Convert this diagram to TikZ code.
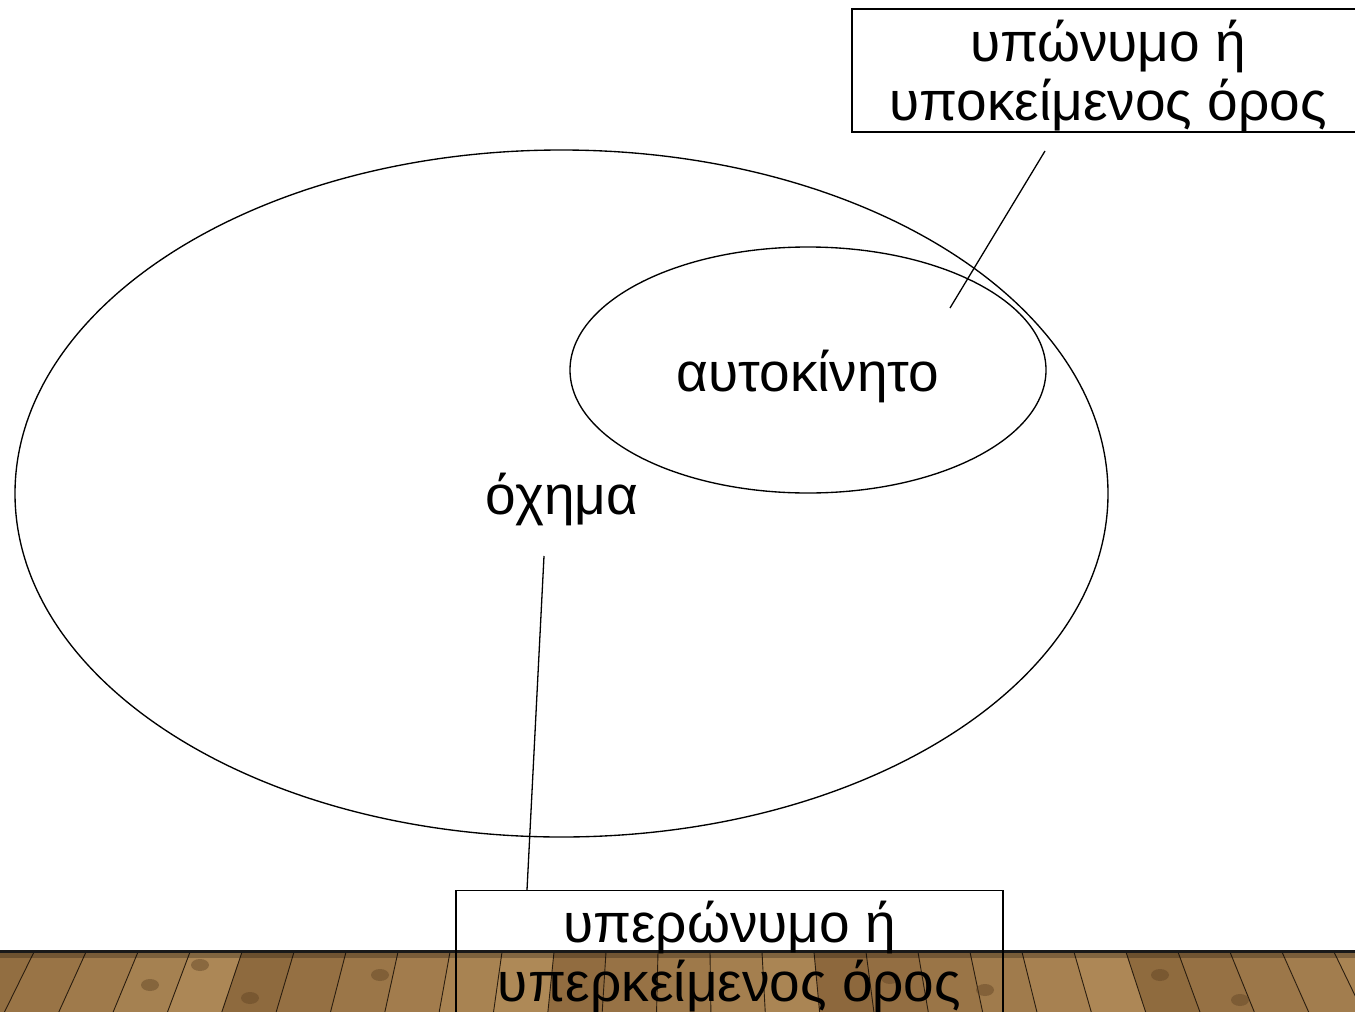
\documentclass[tikz,border=0pt]{standalone}
\usepackage{fontspec}
\setmainfont{Liberation Sans}
\usetikzlibrary{shapes.geometric}
\definecolor{woodA}{RGB}{120,84,44}
\definecolor{woodB}{RGB}{200,162,108}
\tikzset{
  oval/.style={ellipse, draw=black, line width=1.35pt, inner sep=0pt},
  word/.style={font=\fontsize{55}{59}\selectfont, inner sep=0pt, align=center},
  termbox/.style={draw=black, line width=1.4pt, inner sep=0pt},
  link/.style={draw=black, line width=1.3pt},
  plankline/.style={draw=black!65!woodA, line width=0.9pt},
  knot/.style={fill=woodA!80!black, opacity=0.45},
}
\begin{document}
\begin{tikzpicture}[x=1pt,y=-1pt]
\useasboundingbox (0,0) rectangle (1355,1012);
\clip (0,0) rectangle (1355,1012);
\fill[white] (0,0) rectangle (1355,1012);
% wooden floor
\fill[woodA!55!woodB] (0,951) rectangle (1355,1012);
\foreach \n in {0,...,28}{
  \pgfmathsetmacro\xa{-70+52*\n}
  \pgfmathsetmacro\xb{\xa+52}
  \pgfmathsetmacro\xc{\xa+(\xa-690)*0.045}
  \pgfmathsetmacro\xd{\xb+(\xb-690)*0.045}
  \pgfmathsetmacro\p{int(mod(\n*37,45)+30)}
  \fill[woodA!\p!woodB] (\xa,952) -- (\xb,952) -- (\xd,1012) -- (\xc,1012) -- cycle;
  \draw[plankline] (\xa,952) -- (\xc,1012);
}
\foreach \kx/\ky in {150/985, 200/965, 250/998, 380/975, 890/978, 985/990, 1160/975, 1240/1000}{
  \fill[knot] (\kx,\ky) ellipse (9pt and 6pt);
}
\fill[black, opacity=0.25] (0,951) rectangle (1355,958);
\draw[black!90, line width=3pt] (0,951) -- (1355,951);
% ellipses
\node[oval, minimum width=1093pt, minimum height=687pt] (big) at (561.5,493.5) {};
\node[oval, minimum width=476pt, minimum height=246pt] (small) at (808,370) {};
\node[word] (car) at (808,376) {αυτοκίνητο};
\node[word] (veh) at (562,499) {όχημα};
% boxes
\node[termbox, minimum width=510pt, minimum height=123pt] (hypo) at (1107,70.5) {};
\node[word] (hypotext) at (1108,76) {υπώνυμο ή\\υποκείμενος όρος};
\node[termbox, minimum width=547pt, minimum height=150pt, anchor=north] (hyper) at (729.5,890) {};
\node[word] (hypertext) at (729.5,957) {υπερώνυμο ή\\υπερκείμενος όρος};
% connectors
\coordinate (h1) at (1045,151);
\coordinate (h2) at (950,308);
\draw[link] (h1) -- (h2);
\coordinate (v1) at (544,556);
\draw[link] (v1) -- (hyper.north -| 527,0);
\end{tikzpicture}
\end{document}
